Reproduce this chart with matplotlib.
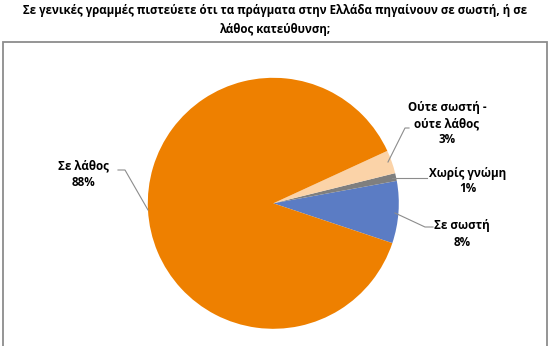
import matplotlib
matplotlib.use("Agg")
import matplotlib.pyplot as plt
from matplotlib.patches import Rectangle
import numpy as np

plt.rcParams['font.family'] = ['Open Sans', 'DejaVu Sans']

title = "Σε γενικές γραμμές πιστεύετε ότι τα πράγματα στην Ελλάδα πηγαίνουν σε σωστή, ή σε\nλάθος κατεύθυνση;"
categories = ["Σε σωστή", "Χωρίς γνώμη", "Ούτε σωστή -\nούτε λάθος", "Σε λάθος"]
values = [8, 1, 3, 88]
colors = ["#5B7CC4", "#7F7F7F", "#FBD3A8", "#EE8000"]

W, H = 550, 346
fig = plt.figure(figsize=(W / 100, H / 100), dpi=100)

# outer chart frame
fig.patches.append(Rectangle((3 / W, -0.01), 543.5 / W, 1 - 42 / H + 0.01,
                             transform=fig.transFigure, fill=False,
                             edgecolor="#8C8C8C", linewidth=1.3))

fig.text(0.5, 1 - 20 / H, title, ha="center", va="center", fontsize=8.3,
         fontweight="bold", linespacing=1.6)

cx, cy, r = 273.3, 203.3, 125.5
ax = fig.add_axes([(cx - r) / W, 1 - (cy + r) / H, 2 * r / W, 2 * r / H])
wedges, _ = ax.pie(values, colors=colors, startangle=-18.5, counterclock=True,
                   radius=1.0, wedgeprops=dict(linewidth=0))
ax.set_xlim(-1, 1)
ax.set_ylim(-1, 1)
ax.set_aspect('auto')
ax.axis('off')

labels = [f"{c}\n{v}%" for c, v in zip(categories, values)]
# label centers (pixels) and leader line points
label_pos = [(462, 234), (468, 181), (447, 124), (83, 174)]
leaders = [
    [(395, 213), (425, 227), (433, 227)],
    [(392, 178), (427, 178)],
    [(388, 162), (405, 128), (409, 128)],
    [(148, 210), (125, 170), (118, 170)],
]
for lab, (lx, ly), pts in zip(labels, label_pos, leaders):
    fig.text(lx / W, 1 - ly / H, lab, ha="center", va="center", fontsize=8.4,
             fontweight="bold", linespacing=1.3)
    xs = [p[0] / W for p in pts]
    ys = [1 - p[1] / H for p in pts]
    fig.add_artist(plt.Line2D(xs, ys, transform=fig.transFigure,
                              color="#8C8C8C", linewidth=0.8))

fig.savefig("out.png", dpi=100)
